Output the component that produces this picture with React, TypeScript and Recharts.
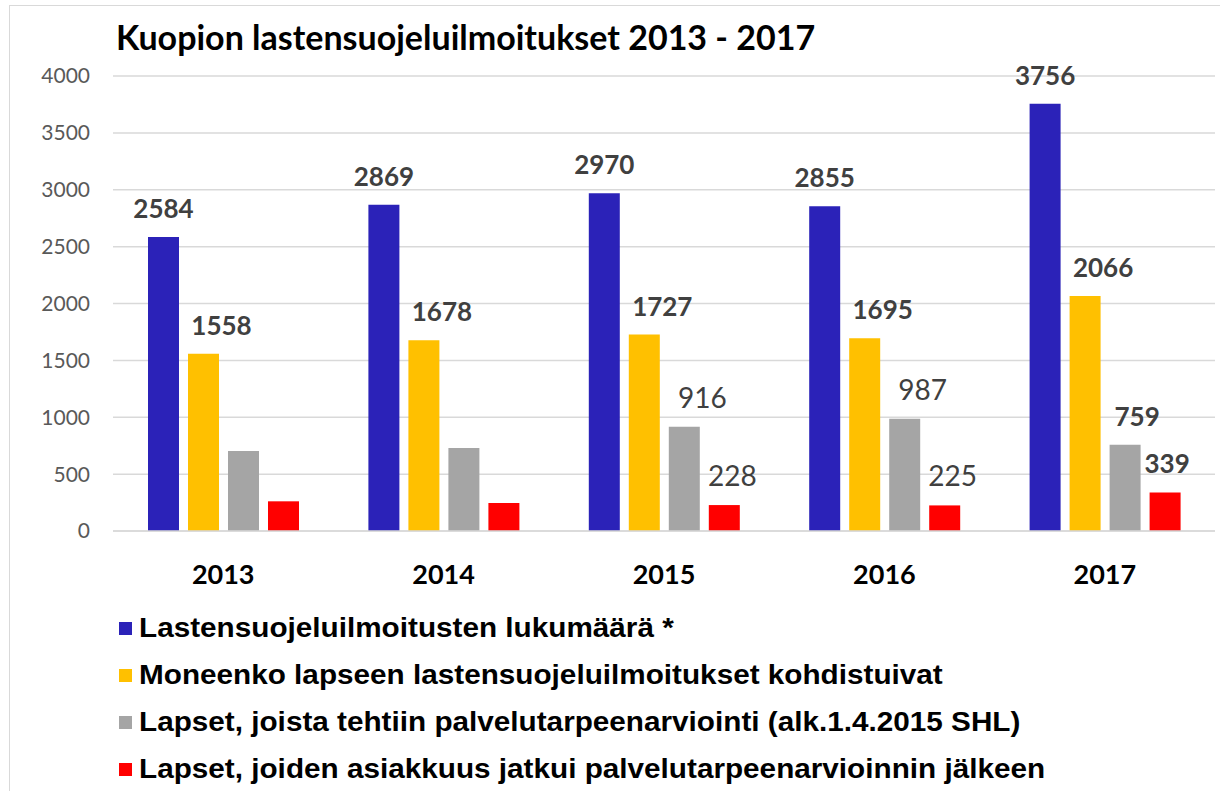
import { BarChart, Bar, XAxis, YAxis, CartesianGrid, Legend, LabelList } from "recharts";

const years = ["2013", "2014", "2015", "2016", "2017"];
const ilmoitukset = [2584, 2869, 2970, 2855, 3756];
const lapset = [1558, 1678, 1727, 1695, 2066];
const arvioinnit = [703, 730, 916, 987, 759];
const asiakkuudet = [261, 246, 228, 225, 339];
const yTicks = [0, 500, 1000, 1500, 2000, 2500, 3000, 3500, 4000];

const title = "Kuopion lastensuojeluilmoitukset 2013 - 2017";

const series = [
  { key: "ilmoitukset", name: "Lastensuojeluilmoitusten lukumäärä *", color: "#2B22B8", dx: 0 },
  { key: "lapset", name: "Moneenko lapseen lastensuojeluilmoitukset kohdistuivat", color: "#FFC000", dx: 18 },
  { key: "arvioinnit", name: "Lapset, joista tehtiin palvelutarpeenarviointi (alk.1.4.2015 SHL)", color: "#A5A5A5", dx: 12 },
  { key: "asiakkuudet", name: "Lapset, joiden asiakkuus jatkui palvelutarpeenarvioinnin jälkeen", color: "#FF0000", dx: 2 },
];

// which labels are left out / drawn in regular weight
const hiddenLabels: Record<string, string[]> = { arvioinnit: ["2013", "2014"], asiakkuudet: ["2013", "2014"] };
const plainLabels: Record<string, string[]> = { arvioinnit: ["2015", "2016"], asiakkuudet: ["2015", "2016"] };

const data = years.map((year, i) => ({
  year,
  ilmoitukset: ilmoitukset[i],
  lapset: lapset[i],
  arvioinnit: arvioinnit[i],
  asiakkuudet: asiakkuudet[i],
}));

const makeLabel = (key: string, dx: number) => (props: any) => {
  const { x, y, width, value, index } = props;
  const year = years[index];
  if ((hiddenLabels[key] || []).includes(year)) return null;
  const plain = (plainLabels[key] || []).includes(year);
  return (
    <text
      x={Number(x) + Number(width) / 2 + (plain ? dx + 6 : dx)}
      y={Number(y) - 19}
      textAnchor="middle"
      fill="#404040"
      fontFamily="Lato"
      fontWeight={plain ? 400 : 700}
      fontSize={plain ? 28 : 26}
    >
      {value}
    </text>
  );
};

function LegendBox() {
  return (
    <div style={{ height: 190, width: 1000 }}>
      {series.map((s) => (
        <div key={s.key} style={{ display: "flex", alignItems: "center", height: 47 }}>
          <span style={{ width: 13, height: 13, background: s.color, marginRight: 7, display: "inline-block", flexShrink: 0 }} />
          <span
            style={{
              fontFamily: "'Liberation Sans', Arial",
              fontWeight: 700,
              fontSize: 27,
              color: "#000",
              whiteSpace: "nowrap",
              display: "inline-block",
              transform: "scaleX(1.1)",
              transformOrigin: "left center",
            }}
          >
            {s.name}
          </span>
        </div>
      ))}
    </div>
  );
}

export default function App() {
  return (
    <div style={{ position: "absolute", left: 0, top: 0, width: 1220, height: 791, background: "#fff", overflow: "hidden" }}>
      <div
        style={{
          position: "absolute",
          left: 9,
          top: 5,
          width: 1211,
          height: 786,
          borderLeft: "1px solid #d9d9d9",
          borderTop: "1px solid #d9d9d9",
        }}
      />
      <div
        style={{
          position: "absolute",
          left: 116,
          top: 16,
          fontFamily: "Lato",
          fontWeight: 700,
          fontSize: 34,
          color: "#000",
          whiteSpace: "nowrap",
        }}
      >
        {title}
      </div>
      <BarChart
        width={1220}
        height={791}
        data={data}
        margin={{ top: 76, right: 5, left: 53, bottom: 10 }}
        barSize={31}
        barGap={9}
      >
        <CartesianGrid vertical={false} stroke="#d9d9d9" strokeWidth={1.5} />
        <XAxis
          dataKey="year"
          height={60}
          tickLine={false}
          axisLine={{ stroke: "#d9d9d9", strokeWidth: 1.5 }}
          tickSize={0}
          tickMargin={34}
          tick={{ fill: "#000", fontFamily: "Lato", fontWeight: 700, fontSize: 27 }}
        />
        <YAxis
          width={60}
          domain={[0, 4000]}
          ticks={yTicks}
          tickLine={false}
          axisLine={false}
          tickSize={0}
          tickMargin={23}
          tick={{ fill: "#595959", fontFamily: "Lato", fontSize: 21 }}
        />
        <Legend
          layout="vertical"
          verticalAlign="bottom"
          align="center"
          content={() => <LegendBox />}
          wrapperStyle={{ left: 119, top: 605, width: 1000 }}
        />
        {series.map((s) => (
          <Bar key={s.key} dataKey={s.key} name={s.name} fill={s.color} isAnimationActive={false}>
            <LabelList dataKey={s.key} content={makeLabel(s.key, s.dx)} />
          </Bar>
        ))}
      </BarChart>
    </div>
  );
}
